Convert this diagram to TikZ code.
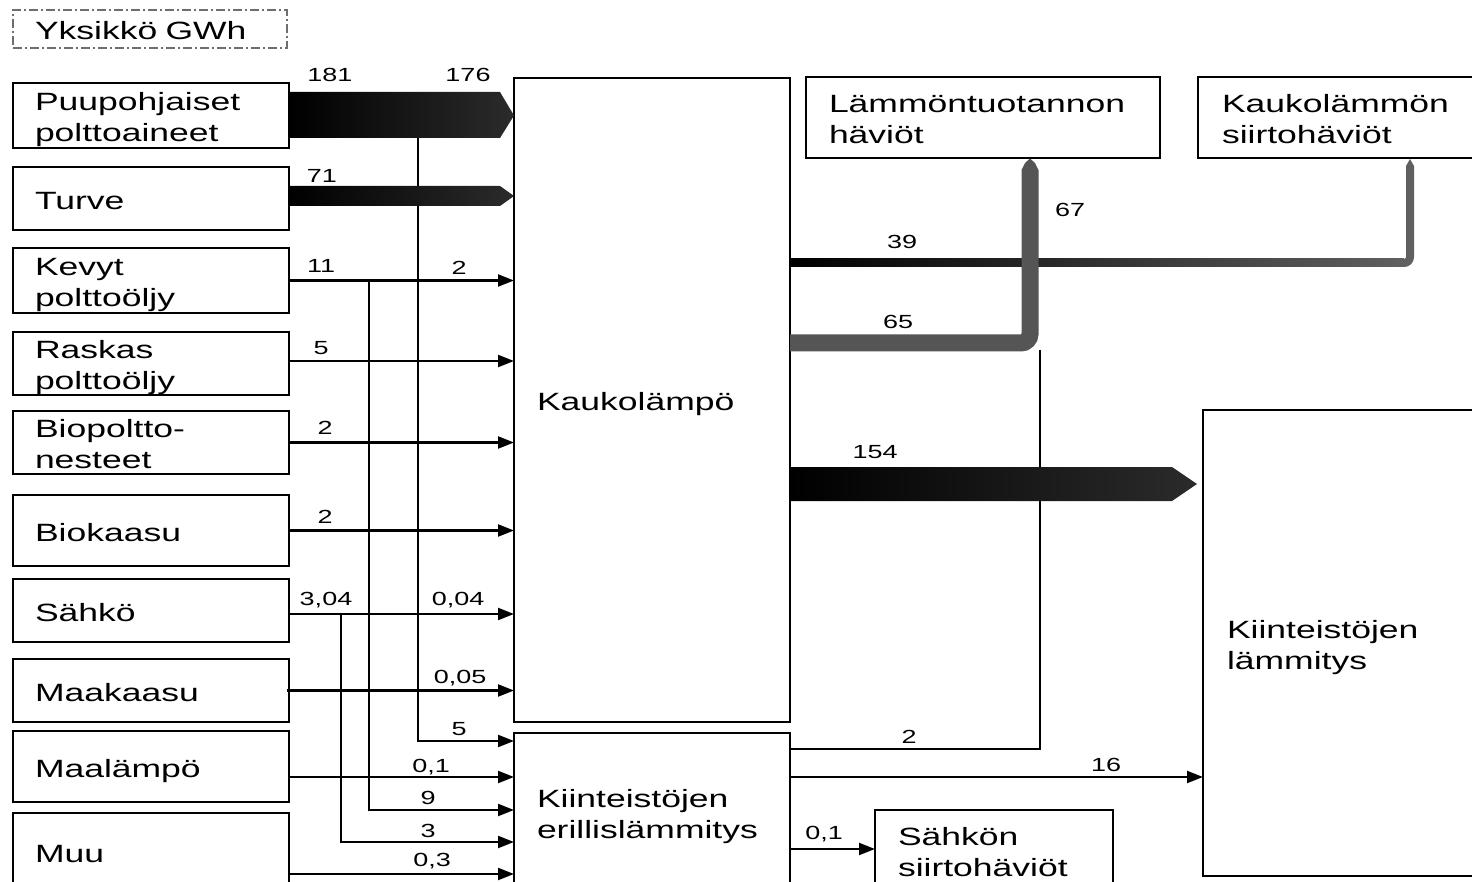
\documentclass[tikz,border=0pt]{standalone}
\usepackage{fontspec}
\setmainfont{Liberation Sans}[FakeStretch=1.42]
\usetikzlibrary{arrows.meta,calc}
\definecolor{gA}{HTML}{2B2B2B}
\definecolor{gB}{HTML}{555555}
\definecolor{gC}{HTML}{606060}
\definecolor{gD}{HTML}{6E6E6E}
\newcommand\boxfont{\fontsize{25}{31}\selectfont}
\newcommand\lblfont{\fontsize{19}{22}\selectfont}
\begin{document}
\begin{tikzpicture}[x=1pt,y=-1pt,
  every node/.style={inner sep=0pt, outer sep=0pt},
  box/.style={draw, line width=2pt, anchor=north west, inner xsep=22pt, inner ysep=0pt, align=left, font=\boxfont,
              execute at begin node={\rule{0pt}{26.2pt}}, execute at end node={\rule[-4.8pt]{0pt}{4.8pt}}},
  lbox/.style={box, minimum width=276pt, text width=232pt},
  lbl/.style={font=\lblfont},
  ln/.style={line width=2.2pt},
  arr/.style={ln, -{Triangle[length=16pt,width=12pt]}},
]
\useasboundingbox (0,0) rectangle (1472,882);
\clip (0,0) rectangle (1472,882);

% ---------- boxes ----------
\node[box, draw=gD, line width=1.4pt, dash pattern=on 9pt off 3pt on 2pt off 3pt,
      minimum width=274pt, minimum height=38pt, text width=230pt] (unit) at (13,10) {Yksikkö GWh};

\node[lbox, minimum height=65pt] (puu)    at (13,83)  {Puupohjaiset\\polttoaineet};
\node[lbox, minimum height=63pt] (turve)  at (13,167) {Turve};
\node[lbox, minimum height=65pt] (kevyt)  at (13,248) {Kevyt\\polttoöljy};
\node[lbox, minimum height=63pt] (raskas) at (13,332) {Raskas\\polttoöljy};
\node[lbox, minimum height=63pt] (bio)    at (13,411) {Biopoltto-\\nesteet};
\node[lbox, minimum height=71pt] (biok)   at (13,495) {Biokaasu};
\node[lbox, minimum height=63pt] (sahko)  at (13,579) {Sähkö};
\node[lbox, minimum height=63pt] (maak)   at (13,659) {Maakaasu};
\node[lbox, minimum height=71pt] (maal)   at (13,731) {Maalämpö};
\node[lbox, minimum height=78pt] (muu)    at (13,813) {Muu};

\node[box, inner xsep=23pt, minimum width=276pt, minimum height=644pt, text width=230pt] (kl)  at (514,78)  {Kaukolämpö};
\node[box, inner xsep=23pt, minimum width=276pt, minimum height=158pt, text width=230pt] (ker) at (514,733) {Kiinteistöjen\\erillislämmitys};
\node[box, inner xsep=23pt, minimum width=354pt, minimum height=81pt, text width=308pt]  (lht) at (806,77)  {Lämmöntuotannon\\häviöt};
\node[box, inner xsep=24pt, minimum width=290pt, minimum height=81pt, text width=242pt]  (kls) at (1198,77) {Kaukolämmön\\siirtohäviöt};
\node[box, inner xsep=24pt, minimum width=290pt, minimum height=466pt, text width=242pt] (kil) at (1203,410) {Kiinteistöjen\\lämmitys};
\node[box, inner xsep=23pt, minimum width=238pt, minimum height=81pt, text width=192pt]  (ssh) at (875,810) {Sähkön\\siirtohäviöt};

% ---------- thin connectors ----------
\coordinate (pv) at ($(puu.east)+(129,22.5)$);
\coordinate (kv) at ($(kevyt.east)+(80,0)$);
\coordinate (sv) at ($(sahko.east)+(52,3.5)$);
\draw[arr] (pv) |- ($(ker.west)+(0,-71)$);
\draw[arr] (kv) |- ($(ker.west)+(0,-2)$);
\draw[arr] (sv) |- ($(ker.west)+(0,30)$);

\draw[arr] (kevyt.east) -- (kevyt.east -| kl.west);
\draw[arr] ($(raskas.east)+(0,-2.5)$) -- ($(raskas.east -| kl.west)+(0,-2.5)$);
\draw[arr] (bio.east) -- (bio.east -| kl.west);
\draw[arr] (biok.east) -- (biok.east -| kl.west);
\draw[arr] ($(sahko.east)+(0,3.5)$) -- ($(sahko.east -| kl.west)+(0,3.5)$);
\draw[arr] ($(maak.east)+(-2,0)$) -- (maak.east -| kl.west);
\draw[arr] ($(maal.east)+(0,10.5)$) -- ($(maal.east -| ker.west)+(0,10.5)$);
\draw[arr] ($(muu.east)+(0,22)$) -- ($(muu.east -| ker.west)+(0,22)$);

\coordinate (j2) at (1040,350);
\draw[ln] ($(ker.east)+(0,-63)$) -| (j2);
\draw[arr] ($(ker.east)+(0,-35)$) -- ($(ker.east -| kil.west)+(0,-35)$);
\draw[arr] ($(ker.east)+(0,37)$) -- ($(ker.east -| ssh.west)+(0,37)$);

% ---------- thick flows ----------
% Puupohjaiset -> Kaukolampo
\coordinate (pt) at (puu.east -| kl.west);
\shade[left color=black, right color=gA]
  ($(puu.east)+(0,-23.5)$) -- ($(pt)+(-14,-23.5)$) -- (pt) -- ($(pt)+(-14,22.5)$) -- ($(puu.east)+(0,22.5)$) -- cycle;
% Turve -> Kaukolampo
\coordinate (t0) at ($(turve.east)+(0,-2.5)$);
\coordinate (t1) at (t0 -| kl.west);
\shade[left color=black, right color=gA]
  ($(t0)+(0,-10)$) -- ($(t1)+(-14,-10)$) -- (t1) -- ($(t1)+(-14,10)$) -- ($(t0)+(0,10)$) -- cycle;
% 154 -> Kiinteistojen lammitys
\coordinate (h0) at ($(kl.east)+(0,84)$);
\coordinate (h1) at ($(h0 -| kil.west)+(-6,0)$);
\shade[left color=black, right color=gA]
  ($(h0)+(0,-17)$) -- ($(h1)+(-25,-17)$) -- (h1) -- ($(h1)+(-25,17)$) -- ($(h0)+(0,17)$) -- cycle;
% 39 -> Kaukolammon siirtohaviot
\coordinate (s0) at ($(kl.east)+(0,-137)$);
\shade[left color=black, right color=gC] ($(s0)+(0,-4)$) rectangle (1404,267);
\draw[line width=8pt, gC, rounded corners=6pt] (1398,263) -- (1410,263) -- (1410,166);
\fill[gC] (1406,166) -- (1410,159) -- (1414,166) -- cycle;
% 65 / 67 -> Lammontuotannon haviot
\coordinate (r0) at ($(kl.east)+(0,-57)$);
\draw[line width=17pt, gB, rounded corners=9pt] (r0) -- (1030,343) -- (1030,170);
\fill[gB] (1021.5,170.2) -- (1025,163) -- (1030,158.5) -- (1035,163) -- (1038.5,170.2) -- cycle;

% ---------- labels ----------
\node[lbl] (l181) at (330,75) {181};
\node[lbl] (l176) at (468,75) {176};
\node[lbl] (l71)  at (322,176) {71};
\node[lbl] (l11)  at (321,266) {11};
\node[lbl] (l2a)  at (459,268) {2};
\node[lbl] (l5a)  at (321,348) {5};
\node[lbl] (l2b)  at (325,428) {2};
\node[lbl] (l2c)  at (325,517) {2};
\node[lbl] (l304) at (326,600) {3,04};
\node[lbl] (l004) at (458,600) {0,04};
\node[lbl] (l005) at (460,678) {0,05};
\node[lbl] (l5b)  at (459,729) {5};
\node[lbl] (l01a) at (431,767) {0,1};
\node[lbl] (l9)   at (428,798) {9};
\node[lbl] (l3)   at (428,831) {3};
\node[lbl] (l03)  at (432,861) {0,3};
\node[lbl] (l39)  at (902,242) {39};
\node[lbl] (l67)  at (1070,210) {67};
\node[lbl] (l65)  at (898,322) {65};
\node[lbl] (l154) at (875,452) {154};
\node[lbl] (l2d)  at (909,737) {2};
\node[lbl] (l16)  at (1106,765) {16};
\node[lbl] (l01b) at (824,834) {0,1};
\end{tikzpicture}
\end{document}
